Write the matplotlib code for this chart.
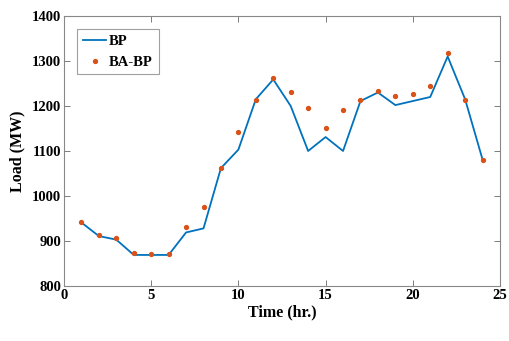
import matplotlib.pyplot as plt
import numpy as np

# hours 1..24
hours = np.arange(1, 25)

# BP forecast (line)
bp = [941, 911, 903, 869, 869, 869, 919, 928, 1062, 1103, 1215, 1259,
      1200, 1100, 1131, 1100, 1211, 1230, 1202, 1211, 1220, 1310, 1215, 1081]

# BA-BP forecast (dots)
ba_bp = [943, 913, 906, 874, 871, 870, 930, 975, 1062, 1143, 1213, 1263,
         1230, 1195, 1150, 1191, 1213, 1234, 1222, 1227, 1245, 1317, 1214, 1080]

xticks = [0, 5, 10, 15, 20, 25]
yticks = [800, 900, 1000, 1100, 1200, 1300, 1400]

plt.rcParams['font.family'] = ['Liberation Serif', 'DejaVu Serif']
plt.rcParams['font.weight'] = 'bold'

fig = plt.figure(figsize=(5.09, 3.41), dpi=100)
ax = fig.add_axes([0.1257, 0.1613, 0.8566, 0.7918])

ax.plot(hours, bp, color='#0072BD', lw=1.3, label='BP')
ax.plot(hours, ba_bp, 'o', color='#D95319', ms=2.8, label='BA-BP')

ax.set_xlim(0, 25)
ax.set_ylim(800, 1400)
ax.set_xticks(xticks)
ax.set_yticks(yticks)
ax.tick_params(direction='in', top=True, right=True, labelsize=10.5,
               color='#666666', length=4, width=0.6, pad=2)
for s in ax.spines.values():
    s.set_color('#888888')
    s.set_linewidth(0.8)
for lab in ax.get_xticklabels() + ax.get_yticklabels():
    lab.set_fontweight('bold')

ax.set_xlabel('Time (hr.)', fontsize=11.5, fontweight='bold', labelpad=2)
ax.set_ylabel('Load (MW)', fontsize=11.5, fontweight='bold', labelpad=5)

leg = ax.legend(loc='upper left', prop={'weight': 'bold', 'size': 10.5},
                fancybox=False, edgecolor='#888888', handlelength=1.6,
                borderaxespad=0.9, labelspacing=0.5, handletextpad=0.2,
                borderpad=0.4)
leg.get_frame().set_linewidth(0.8)

fig.savefig('out.png', dpi=100)
